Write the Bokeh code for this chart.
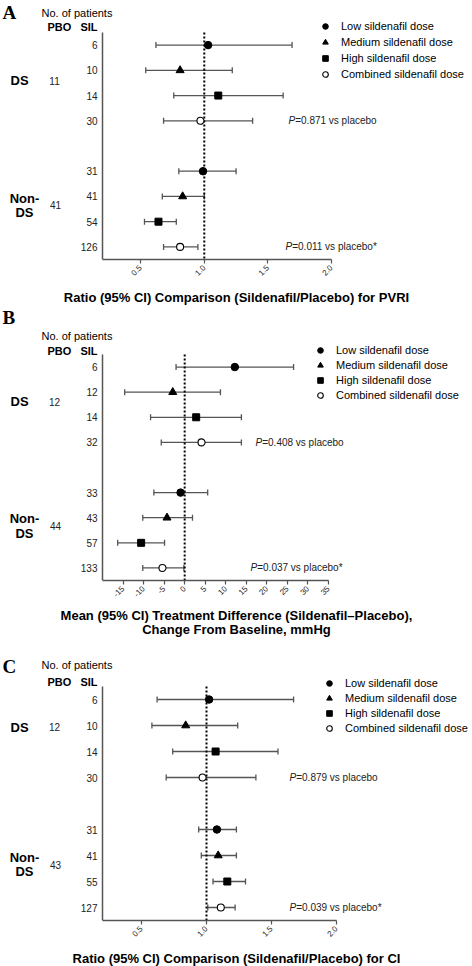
import math
from bokeh.plotting import figure
from bokeh.models import (ColumnDataSource, Range1d, FixedTicker, Whisker, TeeHead,
                          Label, Legend, LegendItem, PrintfTickFormatter)
from bokeh.layouts import column
from bokeh.embed import file_html
from bokeh.resources import INLINE

FONT = "Liberation Sans"
SERIF = "Liberation Serif"
dose_labels = ["Low sildenafil dose", "Medium sildenafil dose",
               "High sildenafil dose", "Combined sildenafil dose"]
group_labels = ["DS", "Non-DS"]

# ---------------- Panel A: PVRI ratio ----------------
a_pbo = [11, 41]
a_sil_ds = [6, 10, 14, 30]
a_sil_non = [31, 41, 54, 126]
a_est_ds = [1.03, 0.81, 1.11, 0.97]
a_lo_ds = [0.62, 0.54, 0.76, 0.68]
a_hi_ds = [1.69, 1.22, 1.62, 1.38]
a_est_non = [0.99, 0.83, 0.64, 0.81]
a_lo_non = [0.80, 0.67, 0.53, 0.68]
a_hi_non = [1.25, 1.00, 0.78, 0.95]
a_pvals = ["0.871", "0.011"]
a_ticks = [0.5, 1.0, 1.5, 2.0]
a_xlim = (0.2, 2.0)
a_null = 1.0
a_xlabel = "Ratio (95% CI) Comparison (Sildenafil/Placebo) for PVRI"

# ---------------- Panel B: mPAP difference ----------------
b_pbo = [12, 44]
b_sil_ds = [6, 12, 14, 32]
b_sil_non = [33, 43, 57, 133]
b_est_ds = [12.2, -2.9, 2.8, 4.1]
b_lo_ds = [-2.1, -14.6, -8.3, -5.7]
b_hi_ds = [26.5, 8.7, 13.8, 13.8]
b_est_non = [-1.0, -4.3, -10.6, -5.4]
b_lo_non = [-7.5, -10.2, -16.3, -10.2]
b_hi_non = [5.6, 1.9, -4.9, -0.2]
b_pvals = ["0.408", "0.037"]
b_ticks = [-15, -10, -5, 0, 5, 10, 15, 20, 25, 30, 35]
b_xlim = (-20, 35)
b_null = 0
b_xlabel = "Mean (95% CI) Treatment Difference (Sildenafil\u2013Placebo),\nChange From Baseline, mmHg"

# ---------------- Panel C: CI ratio ----------------
c_pbo = [12, 43]
c_sil_ds = [6, 10, 14, 30]
c_sil_non = [31, 41, 55, 127]
c_est_ds = [1.02, 0.84, 1.07, 0.97]
c_lo_ds = [0.62, 0.58, 0.74, 0.69]
c_hi_ds = [1.67, 1.24, 1.55, 1.38]
c_est_non = [1.08, 1.09, 1.16, 1.11]
c_lo_non = [0.94, 0.96, 1.05, 1.01]
c_hi_non = [1.23, 1.23, 1.30, 1.22]
c_pvals = ["0.879", "0.039"]
c_ticks = [0.5, 1.0, 1.5, 2.0]
c_xlim = (0.2, 2.0)
c_null = 1.0
c_xlabel = "Ratio (95% CI) Comparison (Sildenafil/Placebo) for CI"

AXIS_COLOR = "#555555"
BAR_COLOR = "#555555"
FW = 472          # frame width (whole canvas width)
AX_LEFT = 102     # pixel where the data axis starts inside the frame


def panel(letter, pbo, sil_ds, sil_non, est_ds, lo_ds, hi_ds, est_non, lo_non, hi_non,
          pvals, xlim, null, ticks, fmt, xlabel, L):
    ds_rows = [0, 1, 2, 3]
    non_rows = [5, 6, 7, 8]
    rows = ds_rows + non_rows
    r_lo, r_hi = min(rows) - 0.5, max(rows) + 0.5

    # ranges extended so that the frame covers the whole canvas (texts outside the axes)
    a0, a1 = xlim
    ppu = (L["axr"] - AX_LEFT) / (a1 - a0)
    xr = Range1d(a0 - AX_LEFT / ppu, a1 + (FW - L["axr"]) / ppu)
    rpp = (r_hi - r_lo) / (L["fh"] - L["top"])
    yr = Range1d(r_hi, r_lo - L["top"] * rpp)

    p = figure(frame_width=FW, frame_height=L["fh"], x_range=xr, y_range=yr,
               output_backend="svg", toolbar_location=None,
               min_border_left=0, min_border_right=0, min_border_top=0,
               min_border_bottom=L["b"])
    p.outline_line_color = None
    p.xgrid.visible = False
    p.ygrid.visible = False

    # reference (no-effect) line
    p.segment(x0=[null], y0=[r_lo], x1=[null], y1=[r_hi], line_color="black",
              line_width=2, line_dash="2 2")

    err = ColumnDataSource(dict(y=rows, lo=lo_ds + lo_non, hi=hi_ds + hi_non))
    p.add_layout(Whisker(source=err, base="y", lower="lo", upper="hi", dimension="width",
                         line_color=BAR_COLOR, line_width=1.3, level="underlay",
                         lower_head=TeeHead(size=6, line_color=BAR_COLOR, line_width=1.3),
                         upper_head=TeeHead(size=6, line_color=BAR_COLOR, line_width=1.3)))

    styles = [dict(marker="circle", size=7.5, fill_color="black", line_color="black"),
              dict(marker="triangle", size=8, fill_color="black", line_color="black"),
              dict(marker="square", size=7, fill_color="black", line_color="black"),
              dict(marker="circle", size=7, fill_color="white", line_color="black", line_width=1.1)]
    items = []
    for i, st in enumerate(styles):
        src = ColumnDataSource(dict(x=[est_ds[i], est_non[i]], y=[ds_rows[i], non_rows[i]]))
        r = p.scatter("x", "y", source=src, **st)
        items.append(LegendItem(label=dose_labels[i], renderers=[r]))
    leg = Legend(items=items, location=L["leg"], glyph_width=14, glyph_height=14,
                 label_height=14, spacing=L["sp"], label_standoff=9, padding=0, margin=0,
                 border_line_color=None, background_fill_alpha=0,
                 label_text_font=FONT, label_text_font_size="11px", label_text_color="black")
    p.add_layout(leg)

    # y axis at the start of the data range: SIL patient numbers
    ya = p.yaxis[0]
    ya.fixed_location = a0
    ya.bounds = (r_lo, r_hi)
    ya.ticker = FixedTicker(ticks=rows)
    ya.major_label_overrides = {r: str(n) for r, n in zip(rows, sil_ds + sil_non)}
    ya.axis_line_color = AXIS_COLOR
    ya.axis_line_width = 1.5
    ya.major_tick_line_color = None
    ya.minor_tick_line_color = None
    ya.major_tick_out = 0
    ya.major_label_standoff = 5
    ya.major_label_text_font = FONT
    ya.major_label_text_font_size = "10px"
    ya.major_label_text_color = "#222222"

    xa = p.xaxis[0]
    xa.bounds = xlim
    xa.ticker = FixedTicker(ticks=ticks)
    xa.formatter = PrintfTickFormatter(format=fmt)
    xa.axis_line_color = AXIS_COLOR
    xa.axis_line_width = 1.5
    xa.major_tick_line_color = AXIS_COLOR
    xa.major_tick_line_width = 1.2
    xa.major_tick_out = 4
    xa.major_tick_in = 0
    xa.minor_tick_line_color = None
    xa.major_label_orientation = math.pi / 4
    xa.major_label_standoff = 3
    xa.major_label_text_font = FONT
    xa.major_label_text_font_size = "8px"
    xa.major_label_text_color = "#222222"
    xa.axis_label = xlabel
    xa.axis_label_standoff = L["ls"]
    xa.axis_label_text_font = FONT
    xa.axis_label_text_font_size = "13px"
    xa.axis_label_text_font_style = "bold"
    xa.axis_label_text_color = "black"
    xa.axis_label_text_line_height = 0.95

    def lab(text, dx, y, dy, size="11px", style="normal", align="left", font=FONT, color="black"):
        p.add_layout(Label(x=a0, y=y, x_offset=dx, y_offset=dy, text=text,
                           text_font=font, text_font_size=size, text_font_style=style,
                           text_align=align, text_baseline="middle", text_color=color))

    lab(letter, -100, r_lo, L["ldy"], size="19px", style="bold", font=SERIF)
    lab("No. of patients", -61, r_lo, L["ndy"], size="11px")
    lab("PBO", -55, r_lo, L["pdy"], size="11px", style="bold")
    lab("SIL", -5, r_lo, L["pdy"], size="11px", style="bold", align="right")
    # group labels
    lab(group_labels[0], -92, 1.5, L["dsdy"], size="13px", style="bold")
    lab("Non-", -78, 6.5, L["n1dy"], size="13px", style="bold", align="center")
    lab("DS", -78, 6.5, L["n2dy"], size="13px", style="bold", align="center")
    # placebo numbers
    lab(str(pbo[0]), -48, 1.5, L["dsdy"], size="10px", align="center", color="#222222")
    lab(str(pbo[1]), -47, 6.5, L["p2dy"], size="10px", align="center", color="#222222")
    # p-values
    for (row, pv, dx, star) in [(3, pvals[0], L["px1"], ""), (8, pvals[1], L["px2"], "*")]:
        lab("P", dx, row, 0, size="10px", style="italic", color="#222222")
        lab("=" + pv + " vs placebo" + star, dx + 6.7, row, 0, size="10px", color="#222222")
    return p


pA = panel("A", a_pbo, a_sil_ds, a_sil_non, a_est_ds, a_lo_ds, a_hi_ds, a_est_non, a_lo_non,
           a_hi_non, a_pvals, a_xlim, a_null, a_ticks, "%.1f", a_xlabel,
           dict(fh=259, top=32, b=44, axr=331, leg=(318, 178), sp=2, ls=9, ldy=20, ndy=20, pdy=6,
                dsdy=2, n1dy=11, n2dy=-3, p2dy=4, px1=186, px2=183))
pB = panel("B", b_pbo, b_sil_ds, b_sil_non, b_est_ds, b_lo_ds, b_hi_ds, b_est_non, b_lo_non,
           b_hi_non, b_pvals, b_xlim, b_null, b_ticks, "%d", b_xlabel,
           dict(fh=273, top=47, b=66, axr=328, leg=(313, 178), sp=1, ls=6, ldy=37, ndy=19, pdy=4,
                dsdy=3, n1dy=11.5, n2dy=-3.5, p2dy=4.5, px1=153, px2=148))
pC = panel("C", c_pbo, c_sil_ds, c_sil_non, c_est_ds, c_lo_ds, c_hi_ds, c_est_non, c_lo_non,
           c_hi_non, c_pvals, c_xlim, c_null, c_ticks, "%.1f", c_xlabel,
           dict(fh=274, top=40, b=46, axr=336, leg=(322, 185), sp=1, ls=9, ldy=20, ndy=22, pdy=5,
                dsdy=11.5, n1dy=11, n2dy=-3, p2dy=4, px1=187, px2=187))

layout = column(pA, pB, pC, spacing=0)
open("out.html", "w").write(file_html(layout, INLINE))
